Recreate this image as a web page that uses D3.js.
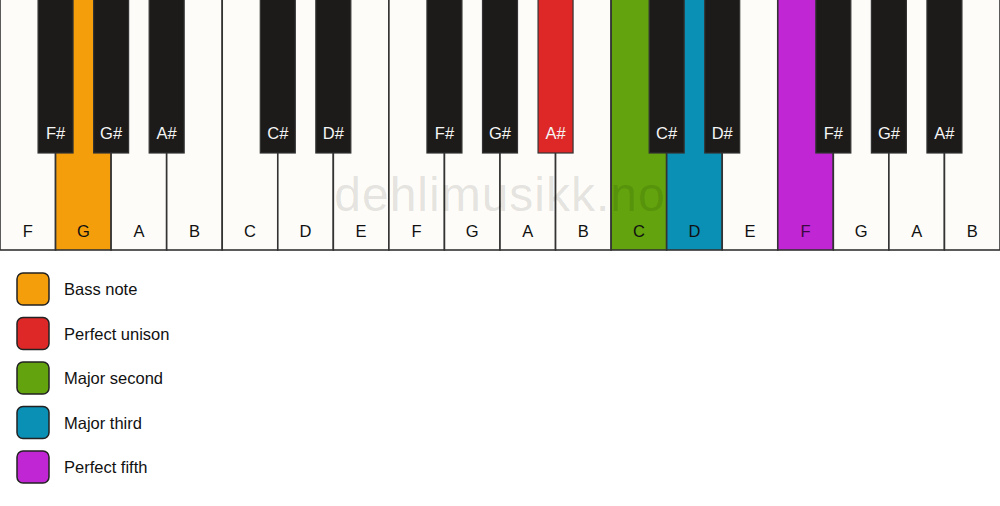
<!DOCTYPE html>
<html><head><meta charset="utf-8">
<script src="https://cdn.jsdelivr.net/npm/d3@7"></script>
<style>html,body{margin:0;padding:0;background:#fff;}svg{display:block;}</style>
</head><body>
<svg id="c" width="1000" height="506"></svg>
<script>
const whiteNotes = ["F","G","A","B","C","D","E","F","G","A","B","C","D","E","F","G","A","B"];
// black key after white index, label
const blackKeys = [
  {after:0,label:"F#"},{after:1,label:"G#"},{after:2,label:"A#"},
  {after:4,label:"C#"},{after:5,label:"D#"},
  {after:7,label:"F#"},{after:8,label:"G#"},{after:9,label:"A#"},
  {after:11,label:"C#"},{after:12,label:"D#"},
  {after:14,label:"F#"},{after:15,label:"G#"},{after:16,label:"A#"}
];
const legendLabels = ["Bass note","Perfect unison","Major second","Major third","Perfect fifth"];
const legendColors = ["#f49e0c","#de2828","#62a30e","#0a8fb5","#c026d3"];
// highlighted keys: index -> legend item
const whiteHighlights = {1:0, 11:2, 12:3, 14:4};
const blackHighlights = {7:1};

const svg = d3.select("#c");
const font = "'Liberation Sans', Arial, sans-serif";
const x = d3.scaleBand().domain(d3.range(whiteNotes.length)).range([0,1000]).padding(0);
const y = d3.scaleLinear().domain([0,1]).range([0,250]);
const bw = 35, bh = 153;

const g = svg.append("g");
g.selectAll("rect.w").data(whiteNotes).join("rect")
  .attr("x",(d,i)=>x(i)).attr("y",-3).attr("width",x.bandwidth()).attr("height",y(1)+3)
  .attr("fill",(d,i)=> whiteHighlights[i]!==undefined ? legendColors[whiteHighlights[i]] : "#fdfcf8")
  .attr("stroke","#333").attr("stroke-width",1.6);
g.selectAll("text.w").data(whiteNotes).join("text")
  .attr("x",(d,i)=>x(i)+x.bandwidth()/2).attr("y",237)
  .attr("text-anchor","middle").attr("font-family",font).attr("font-size",16.5)
  .attr("fill",(d,i)=> whiteHighlights[i]===4 ? "#3a0a40" : "#111").text(d=>d);

g.selectAll("rect.b").data(blackKeys).join("rect")
  .attr("x",(d)=>x(d.after)+x.bandwidth()-bw/2).attr("y",-3).attr("width",bw).attr("height",bh+3)
  .attr("fill",(d,i)=> blackHighlights[i]!==undefined ? legendColors[blackHighlights[i]] : "#1c1b19")
  .attr("stroke","#333").attr("stroke-width",1.2);
g.selectAll("text.b").data(blackKeys).join("text")
  .attr("x",(d)=>x(d.after)+x.bandwidth()).attr("y",139)
  .attr("text-anchor","middle").attr("font-family",font).attr("font-size",16.5)
  .attr("fill","#f5f5f5").text(d=>d.label);

svg.append("text").attr("x",500).attr("y",211).attr("text-anchor","middle")
  .attr("font-family",font).attr("font-size",48).attr("letter-spacing",1)
  .attr("fill","#000").attr("fill-opacity",0.11)
  .text("dehlimusikk.no");

const ly = d3.scaleLinear().domain([0,4]).range([289,467]);
const lg = svg.append("g");
lg.selectAll("rect").data(legendLabels).join("rect")
  .attr("x",17).attr("y",(d,i)=>ly(i)-16).attr("width",32).attr("height",32).attr("rx",6)
  .attr("fill",(d,i)=>legendColors[i]).attr("stroke","#222").attr("stroke-width",1.5);
lg.selectAll("text").data(legendLabels).join("text")
  .attr("x",64).attr("y",(d,i)=>ly(i)+6).attr("font-family",font).attr("font-size",16.5)
  .attr("fill","#111").text(d=>d);
</script>
</body></html>
